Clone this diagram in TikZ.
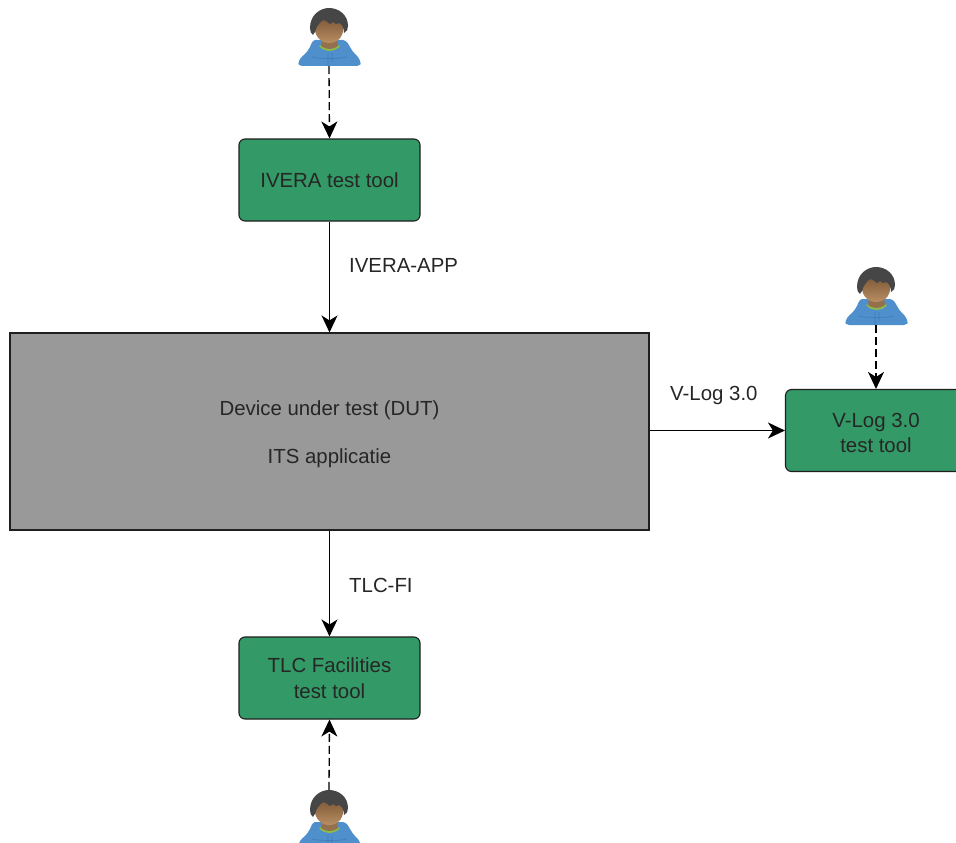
\documentclass[tikz,border=0pt]{standalone}
\usepackage{fontspec}
\setmainfont{Liberation Sans}
\usetikzlibrary{arrows.meta}
\definecolor{boxgreen}{HTML}{339966}
\definecolor{boxgray}{HTML}{999999}
\definecolor{edge}{HTML}{1F1F1F}
\definecolor{hood}{HTML}{4F8FCB}
\definecolor{hoodline}{HTML}{3F7DB8}
\definecolor{hairc}{HTML}{464646}
\definecolor{skintop}{HTML}{7A5735}
\definecolor{skinlow}{HTML}{B98E63}
\definecolor{neckc}{HTML}{94704C}
\definecolor{collarc}{HTML}{8DBB4A}
\tikzset{
  x=1pt,y=-1pt,
  tool/.style={draw=edge,line width=1.1pt,fill=boxgreen,rounded corners=6pt,minimum width=181pt,minimum height=82pt,inner sep=0pt,align=center,font=\fontsize{20.4}{26}\selectfont,text=black!85},
  dut/.style={draw=edge,line width=1.1pt,fill=boxgray,minimum width=639pt,minimum height=197pt,inner sep=0pt,align=center,font=\fontsize{20.4}{26}\selectfont,text=black!85},
  lbl/.style={anchor=west,inner sep=0pt,font=\fontsize{20.4}{24}\selectfont,text=black!85},
  usericon/.style={minimum width=61pt,minimum height=58pt,inner sep=0pt},
  flow/.style={draw=black,line width=1.3pt,-{Stealth[length=17pt,width=16pt,inset=5pt]}},
  actorflow/.style={flow,dash pattern=on 8pt off 4pt},
  pics/person/.style={code={
    % hood and body
    \fill[hood,rounded corners=2pt] (-29,29) .. controls (-31,27) and (-30,22) .. (-25,18)
      .. controls (-22,15) and (-20,12) .. (-18,8)
      .. controls (-17,5) and (-15,3) .. (-12,3) -- (12,3)
      .. controls (16,3) and (18,5) .. (20,8)
      .. controls (22,12) and (24,15) .. (27,18)
      .. controls (31,22) and (32,27) .. (30,29) -- cycle;
    \draw[hoodline,line width=.6pt] (-1,16) -- (-1,29) (3,16) -- (3,25) (-17,20) .. controls (-10,22) and (10,22) .. (18,20);
    % collar
    \fill[collarc] (-10,9) .. controls (-5,15.5) and (6,15.5) .. (11,9) -- (8,8) -- (-8,8) -- cycle;
    % neck and face
    \fill[neckc] (-7,2) -- (8,2) -- (9,9) .. controls (4,13) and (-3,13) .. (-8,9) -- cycle;
    \shade[top color=skintop,bottom color=skinlow] (-14,-20) -- (-14,-14) .. controls (-16,-2) and (-9,6) .. (0,6)
       .. controls (10,6) and (16,-2) .. (14,-14) -- (14,-20) -- cycle;
    % hair
    \fill[hairc] (-19,-9) .. controls (-19,-22) and (-9,-29) .. (0,-29)
      .. controls (10,-29) and (19,-22) .. (19,-11)
      .. controls (19,-8) and (18,-5) .. (15,-4)
      .. controls (15,-9) and (13,-13) .. (10,-14)
      -- (7,-13) -- (4,-15) -- (1,-13) -- (-3,-16) -- (-6,-17)
      .. controls (-9,-15) and (-13,-10) .. (-14,-5)
      .. controls (-15,-3) and (-16,-3) .. (-16,-2)
      .. controls (-18,-3) and (-19,-6) .. (-19,-9) -- cycle;
  }}
}
\begin{document}
\begin{tikzpicture}
\clip (0,0) rectangle (956,843);
\fill[white] (0,0) rectangle (956,843);

\node[tool] (ivera) at (329.5,180) {\raisebox{-1pt}{IVERA test tool}};
\node[dut] (dut) at (329.5,431.5) {\\[-6pt]Device under test (DUT)\\[22pt]ITS applicatie};
\node[tool] (vlog) at (876,430.5) {\\[-6pt]V-Log 3.0\\[-1pt]test tool};
\node[tool] (tlc) at (329.5,678) {TLC Facilities\\test tool};

\node[usericon] (u1) at (329,37) {};
\node[usericon] (u2) at (876,296) {};
\node[usericon] (u3) at (329,819) {};
\pic at (u1.center) {person};
\pic at (u2.center) {person};
\pic at (u3.center) {person};

\draw[actorflow] (u1.south) -- (ivera.north);
\draw[actorflow] (u2.south) -- (u2.south |- vlog.north);
\draw[actorflow] (u3.north) -- (tlc.south);
\draw[flow] (ivera.south) -- (dut.north);
\draw[flow] (dut.south) -- (tlc.north);
\draw[flow] (dut.east |- vlog.west) -- (vlog.west);

\node[lbl] (lb1) at (349,265) {IVERA-APP};
\node[lbl] (lb2) at (670,395.5) {V-Log 3.0};
\node[lbl] (lb3) at (349,585) {TLC-FI};
\end{tikzpicture}
\end{document}
